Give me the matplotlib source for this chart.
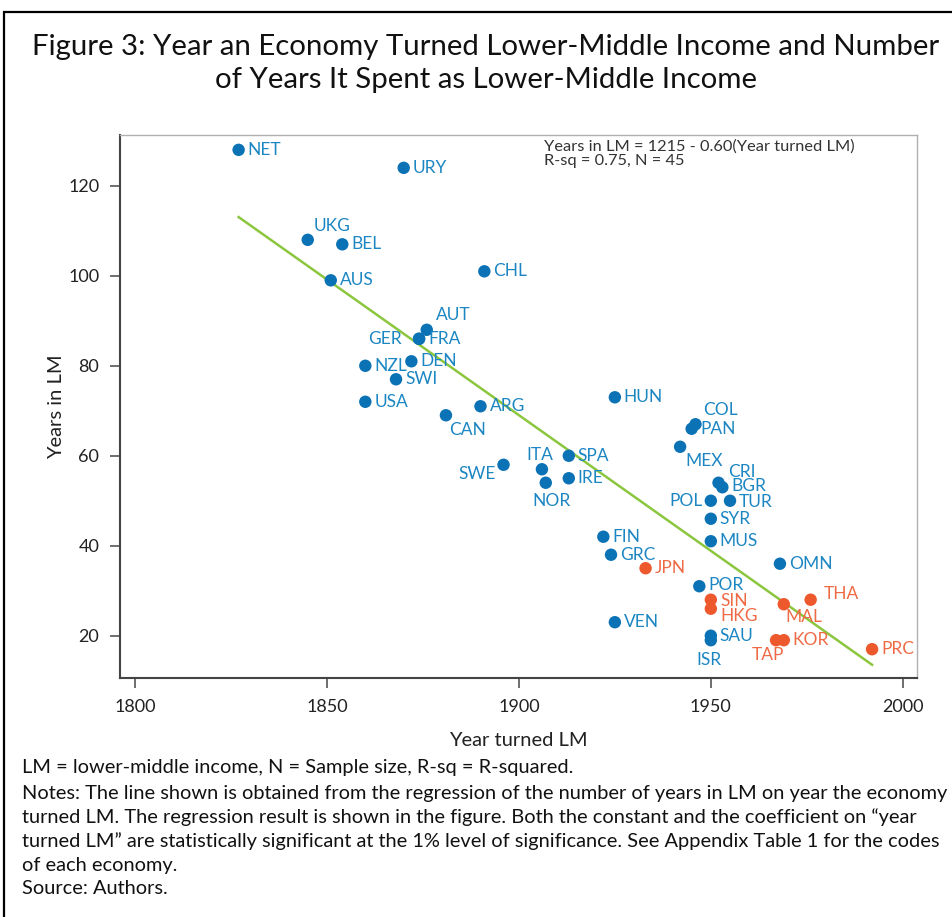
import numpy as np
import matplotlib
matplotlib.use("Agg")
import matplotlib.pyplot as plt
from matplotlib.patches import Rectangle
from matplotlib.transforms import IdentityTransform

# ---------------- data ----------------
codes = ["NET", "URY", "UKG", "BEL", "AUS", "CHL", "AUT", "FRA", "GER", "DEN",
         "NZL", "SWI", "USA", "CAN", "ARG", "SWE", "ITA", "SPA", "IRE", "NOR",
         "HUN", "COL", "PAN", "MEX", "CRI", "BGR", "POL", "TUR", "SYR", "MUS",
         "FIN", "GRC", "JPN", "OMN", "POR", "SIN", "HKG", "MAL", "THA", "VEN",
         "SAU", "ISR", "TAP", "KOR", "PRC"]
year_turned = [1827, 1870, 1845, 1854, 1851, 1891, 1876, 1874, 1874, 1872,
               1860, 1868, 1860, 1881, 1890, 1896, 1906, 1913, 1913, 1907,
               1925, 1946, 1945, 1942, 1952, 1953, 1950, 1955, 1950, 1950,
               1922, 1924, 1933, 1968, 1947, 1950, 1950, 1969, 1976, 1925,
               1950, 1950, 1967, 1969, 1992]
years_in_lm = [128, 124, 108, 107, 99, 101, 88, 86, 86, 81,
               80, 77, 72, 69, 71, 58, 57, 60, 55, 54,
               73, 67, 66, 62, 54, 53, 50, 50, 46, 41,
               42, 38, 35, 36, 31, 28, 26, 27, 28, 23,
               20, 19, 19, 19, 17]
east_asia = {"JPN", "SIN", "HKG", "MAL", "THA", "TAP", "KOR", "PRC"}

x_ticks = [1800, 1850, 1900, 1950, 2000]
y_ticks = [20, 40, 60, 80, 100, 120]

# label placement (offsets in pixels, y down; ha)
label_pos = {
    "UKG": (6, -14, "left"), "AUT": (9, -15, "left"), "GER": (-17, 0, "right"),
    "CAN": (3, 15, "left"), "SWE": (-8, 9, "right"), "ITA": (-2, -14, "center"),
    "NOR": (6, 18, "center"), "COL": (8, -14, "left"), "MEX": (5, 14, "left"),
    "CRI": (10, -11, "left"), "POL": (-8, 0, "right"), "THA": (13, -6, "left"),
    "MAL": (2, 13, "left"), "ISR": (-2, 20, "center"), "TAP": (8, 15, "right"),
    "HKG": (10, 7, "left"), "POR": (9, -1, "left"), "SIN": (10, 1, "left"),
    "BGR": (9, -1, "left"), "TUR": (9, 1, "left"),
}

BLUE = "#0b72b5"
BLUE_TXT = "#1c86c3"
ORANGE = "#ee582d"
ORANGE_TXT = "#ee6a45"
GREEN = "#8cc63f"

W, H = 952, 917
DPI = 100
fig = plt.figure(figsize=(W / DPI, H / DPI), dpi=DPI)
plt.rcParams['font.family'] = ['Lato', 'DejaVu Sans']

# frame around figure (cut off at right / bottom)
fig.patches.append(Rectangle((4 / W, -0.1), 1.2, 1 - 12 / H + 0.1,
                             transform=fig.transFigure, fill=False,
                             edgecolor="black", linewidth=1.6))

fig.text(486 / W, 1 - 47 / H, "Figure 3: Year an Economy Turned Lower-Middle Income and Number",
         ha="center", va="center", fontsize=21.2, color="#111111")
fig.text(486 / W, 1 - 80 / H, "of Years It Spent as Lower-Middle Income",
         ha="center", va="center", fontsize=21.2, color="#111111")

ax = fig.add_axes([120 / W, 1 - 678 / H, (917 - 120) / W, (678 - 135) / H])
ax.set_xlim(1796.1, 2003.7)
ax.set_ylim(10.6, 131.3)

xa = np.array(year_turned, float)
ya = np.array(years_in_lm, float)
slope, intercept = np.polyfit(xa, ya, 1)
xl = np.array([xa.min(), xa.max()])
ax.plot(xl, intercept + slope * xl, color=GREEN, lw=1.8, zorder=2)

colors = [ORANGE if c in east_asia else BLUE for c in codes]
ax.scatter(xa, ya, s=80, c=colors, edgecolors="none", zorder=3)

for c, xv, yv in zip(codes, year_turned, years_in_lm):
    dx, dy, ha = label_pos.get(c, (9, 0, "left"))
    tc = ORANGE_TXT if c in east_asia else BLUE_TXT
    ax.annotate(c, (xv, yv), xytext=(dx * 72 / DPI, -dy * 72 / DPI),
                textcoords="offset points", ha=ha, va="center",
                fontsize=12.5, color=tc, zorder=4)

fig.text(0, 0, "Years in LM = 1215 - 0.60(Year turned LM)\nR-sq = 0.75, N = 45",
         transform=IdentityTransform(), fontsize=11.8, color="#333333",
         va="top", ha="left", linespacing=1.05)
fig.texts[-1].set_position((544, H - 139))

ax.set_xticks(x_ticks)
ax.set_yticks(y_ticks)
ax.tick_params(direction="out", length=7, width=1.2, color="#555555",
               labelsize=13, labelcolor="#222222", pad=8)
for s in ["left", "bottom"]:
    ax.spines[s].set_color("#444444")
    ax.spines[s].set_linewidth(1.5)
for s in ["top", "right"]:
    ax.spines[s].set_color("#b0b0b0")
    ax.spines[s].set_linewidth(1.0)

ax.set_xlabel("Year turned LM", fontsize=14.5, color="#222222", labelpad=12)
ax.set_ylabel("Years in LM", fontsize=14.5, color="#222222", labelpad=2)

notes = [
    "LM = lower-middle income, N = Sample size, R-sq = R-squared.",
    "Notes: The line shown is obtained from the regression of the number of years in LM on year the economy",
    "turned LM. The regression result is shown in the figure. Both the constant and the coefficient on \u201cyear",
    "turned LM\u201d are statistically significant at the 1% level of significance. See Appendix Table 1 for the codes",
    "of each economy.",
    "Source: Authors.",
]
ys = [768, 793, 817, 841, 866, 889]
for line, yy in zip(notes, ys):
    fig.text(22 / W, 1 - yy / H, line, ha="left", va="center", fontsize=14.4, color="#111111")

fig.savefig("out.png", dpi=DPI)
